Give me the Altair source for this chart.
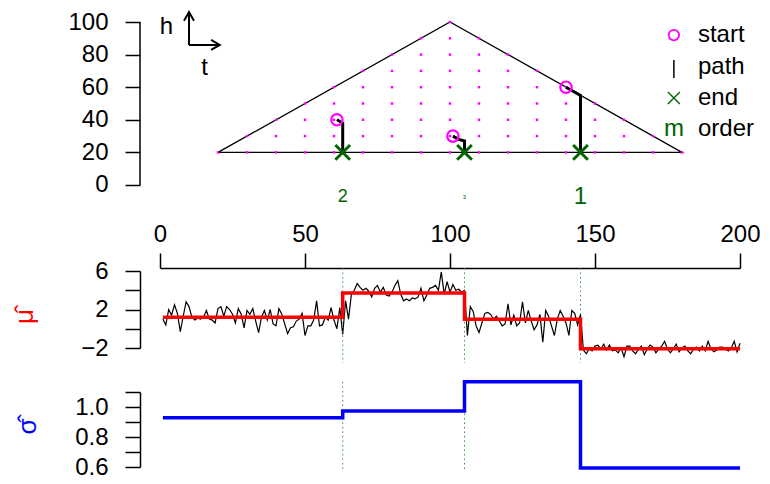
import altair as alt
import pandas as pd

FONT = "Liberation Sans"
DKGREEN = "#006400"

# ---------------- top panel data (t, h) ----------------
tri_t = [20, 100, 180, 20]
tri_h = [20, 100, 20, 20]
grid_t = list(range(20, 181, 10))
grid_h = list(range(20, 101, 10))

start_t = [61, 101, 140]
start_h = [40, 30, 60]
path_id = [1, 1, 1, 2, 2, 2, 2, 3, 3, 3]
path_t = [61, 63, 63, 101, 103, 105, 105, 140, 145, 145]
path_h = [40, 38, 20, 30, 28, 27, 20, 60, 55, 20]
end_t = [63, 105, 145]
end_h = [20, 20, 20]
order_text = ["2", "3", "1"]
order_size = [18, 6, 24]
order_h = -7.4

legend_labels = ["start", "path", "end", "order"]
legend_h = [92.0, 72.4, 53.4, 34.4]
legend_sym_t = 177.2
legend_txt_t = 185.5
legend_bar_h = [76.7, 65.6]

arrow_id = ["up", "up", "uph", "uph", "uph", "rt", "rt", "rth", "rth", "rth"]
arrow_t = [10.0, 10.0, 8.28, 10.0, 11.72, 10.0, 20.6, 17.61, 20.6, 17.61]
arrow_h = [85.9, 106.1, 100.8, 106.1, 100.8, 85.9, 85.9, 88.97, 85.9, 82.83]
hlab_t, hlab_h = 2.2, 97.0
tlab_t, tlab_h = 15.4, 71.8

# ---------------- series ----------------
cps = [63, 105, 145]
mu_levels = [1.19, 3.72, 1.0, -2.07]
sigma_levels = [0.929, 0.973, 1.169, 0.593]

seg1 = [1.0, 0.4, 2.0, 1.4, 2.5, 1.6, -0.3, 1.3, 2.8, 2.3,
        1.2, 0.9, 1.1, 1.0, 1.2, 1.9, 1.0, 0.9, 0.6, 2.1,
        2.3, 1.3, 2.3, 2.0, 1.5, 0.6, 2.1, 1.5, 0.1, 1.9,
        1.5, 2.1, 0.8, -0.4, 1.2, 1.9, 0.9, 2.0, 0.5, 0.3,
        2.1, 1.5, 0.5, -0.5, 0.1, 0.2, 0.8, 1.0, 1.6, -0.7,
        0.3, 0.3, 0.9, 2.9, 0.3, 0.4, 1.2, 0.9, 2.2, 0.9,
        0.0, 2.2, -0.6]
seg2 = [2.9, 1.0, 3.6, 4.0, 4.7, 4.3, 4.0, 4.2, 3.9, 3.3,
        4.2, 4.5, 3.8, 4.3, 3.5, 3.4, 3.8, 4.5, 5.0, 3.6,
        2.9, 3.1, 2.9, 3.2, 3.1, 3.3, 4.2, 2.9, 3.5, 4.2,
        4.3, 4.5, 4.0, 5.9, 3.6, 4.9, 3.8, 4.6, 4.0, 4.1,
        3.8, 4.0]
seg3 = [-0.7, 2.3, 1.8, 0.3, -0.4, 0.6, 1.6, 1.7, 1.5, 1.0,
        1.3, 0.8, 0.3, 0.5, 2.6, 0.4, 1.4, 0.3, 0.6, 2.8,
        0.6, 1.9, 0.8, -0.1, 0.4, 1.5, -1.4, 1.9, 1.3, 0.3,
        -0.7, 1.0, 1.9, 1.3, 0.6, -0.7, 1.9, 1.6, 0.4, 1.5]
seg4 = [-2.2, -2.6, -2.1, -2.3, -1.8, -1.7, -2.1, -1.6, -2.2, -1.7,
        -2.3, -2.2, -2.5, -2.0, -2.9, -1.8, -1.8, -2.3, -2.6, -2.1,
        -1.8, -2.7, -2.1, -1.7, -1.9, -2.5, -2.1, -1.8, -1.3, -2.1,
        -2.5, -2.1, -1.6, -2.4, -2.0, -1.8, -2.3, -2.6, -2.1, -1.9,
        -2.3, -1.8, -2.3, -1.3, -2.1, -2.4, -2.2, -1.9, -1.9, -2.1,
        -2.3, -2.0, -1.3, -2.4, -1.5]
noise = seg1 + seg2 + seg3 + seg4

# ---------------- layout numbers ----------------
W = 580
H_TOP = 205
H_MU = 77
H_SIG = 75
TOP_DOMAIN = [-25.77, 100]
MU_DOMAIN = [-2, 6]
SIG_DOMAIN = [0.6, 1.1]
top_axis_span = [0, 100]
mu_rule = [6.31, -3.56]
sig_rule = [1.167, 0.567]

# ---------------- frames ----------------
tri_df = pd.DataFrame({"t": tri_t, "h": tri_h, "i": list(range(len(tri_t)))})
grid_df = pd.DataFrame([{"t": t, "h": h} for t in grid_t for h in grid_h
                        if h <= t and h <= 200 - t])
start_df = pd.DataFrame({"t": start_t, "h": start_h})
path_df = pd.DataFrame({"id": [str(p) for p in path_id], "t": path_t, "h": path_h,
                        "i": list(range(len(path_t)))})
end_df = pd.DataFrame({"t": end_t, "h": end_h})
order_df = pd.DataFrame({"t": end_t, "h": [order_h] * 3, "txt": order_text,
                         "sz": order_size})
arrow_df = pd.DataFrame({"id": arrow_id, "t": arrow_t, "h": arrow_h,
                         "i": list(range(len(arrow_t)))})
lab_df = pd.DataFrame({"t": [hlab_t, tlab_t], "h": [hlab_h, tlab_h],
                       "txt": ["h", "t"]})
leg_txt_df = pd.DataFrame({"t": [legend_txt_t] * 4, "h": legend_h,
                           "txt": legend_labels})
axis_line_df = pd.DataFrame({"h": [top_axis_span[0]], "h2": [top_axis_span[1]]})

noise_df = pd.DataFrame({"t": list(range(1, 201)), "v": noise})


def step_frame(levels):
    ts, vs = [1], [levels[0]]
    for k, cp in enumerate(cps):
        ts += [cp, cp]
        vs += [levels[k], levels[k + 1]]
    ts.append(200)
    vs.append(levels[-1])
    return pd.DataFrame({"t": ts, "v": vs, "i": list(range(len(ts)))})


mu_df = step_frame(mu_levels)
sig_df = step_frame(sigma_levels)
mu_rule_df = pd.DataFrame({"t": cps, "v": [mu_rule[0]] * 3, "v2": [mu_rule[1]] * 3})
sig_rule_df = pd.DataFrame({"t": cps, "v": [sig_rule[0]] * 3, "v2": [sig_rule[1]] * 3})

# ---------------- encodings ----------------
def xscale():
    return alt.Scale(domain=[0, 200], nice=False, zero=False)


def X_none():
    return alt.X("t:Q", scale=xscale(), axis=None)


def Y_top():
    return alt.Y("h:Q",
                 scale=alt.Scale(domain=TOP_DOMAIN, nice=False, zero=False),
                 axis=alt.Axis(values=[0, 20, 40, 60, 80, 100], domain=False,
                               offset=20, tickSize=15, labelPadding=17,
                               title=None, labelOverlap=False))


XSHAPE = "M-1,-1L1,1M-1,1L1,-1"

top_axis_line = alt.Chart(axis_line_df).mark_rule(color="black", strokeWidth=1.5).encode(
    x=alt.value(-20), y=Y_top(), y2="h2:Q")
tri = alt.Chart(tri_df).mark_line(color="black", strokeWidth=1.3).encode(
    x=X_none(), y=Y_top(), order="i:Q")
dots = alt.Chart(grid_df).mark_square(color="#ff00ff", size=6, opacity=1).encode(
    x=X_none(), y=Y_top())
paths = alt.Chart(path_df).mark_line(color="black", strokeWidth=3).encode(
    x=X_none(), y=Y_top(), detail="id:N", order="i:Q")
starts = alt.Chart(start_df).mark_point(shape="circle", color="#ff00ff", filled=False,
                                        size=130, strokeWidth=2.2, opacity=1).encode(
    x=X_none(), y=Y_top())
ends = alt.Chart(end_df).mark_point(shape=XSHAPE, color=DKGREEN, filled=False,
                                    size=216, strokeWidth=3, opacity=1).encode(
    x=X_none(), y=Y_top())
orders = alt.Chart(order_df).mark_text(color=DKGREEN, font=FONT, baseline="middle",
                                       align="center").encode(
    x=X_none(), y=Y_top(), text="txt:N", size=alt.Size("sz:Q", scale=None, legend=None))
arrows = alt.Chart(arrow_df).mark_line(color="black", strokeWidth=2).encode(
    x=X_none(), y=Y_top(), detail="id:N", order="i:Q")
labs = alt.Chart(lab_df).mark_text(color="black", font=FONT, fontSize=24,
                                   baseline="middle", align="center").encode(
    x=X_none(), y=Y_top(), text="txt:N")

leg_circle = alt.Chart(pd.DataFrame({"t": [legend_sym_t], "h": [legend_h[0]]})).mark_point(
    shape="circle", color="#ff00ff", filled=False, size=110, strokeWidth=1.8, opacity=1).encode(
    x=X_none(), y=Y_top())
leg_bar = alt.Chart(pd.DataFrame({"t": [legend_sym_t], "h": [legend_bar_h[0]],
                                  "h2": [legend_bar_h[1]]})).mark_rule(
    color="black", strokeWidth=1.5).encode(x=X_none(), y=Y_top(), y2="h2:Q")
leg_x = alt.Chart(pd.DataFrame({"t": [legend_sym_t], "h": [legend_h[2]]})).mark_point(
    shape=XSHAPE, color=DKGREEN, filled=False, size=144, strokeWidth=1.4, opacity=1).encode(
    x=X_none(), y=Y_top())
leg_m = alt.Chart(pd.DataFrame({"t": [legend_sym_t], "h": [legend_h[3]], "txt": ["m"]})).mark_text(
    color=DKGREEN, font=FONT, fontSize=24, baseline="middle", align="center").encode(
    x=X_none(), y=Y_top(), text="txt:N")
leg_txt = alt.Chart(leg_txt_df).mark_text(color="black", font=FONT, fontSize=24,
                                          baseline="middle", align="left").encode(
    x=X_none(), y=Y_top(), text="txt:N")

top = alt.layer(top_axis_line, tri, dots, paths, starts, ends, orders, arrows, labs,
                leg_circle, leg_bar, leg_x, leg_m, leg_txt).properties(
    width=W, height=H_TOP)

# ---------------- mu panel ----------------
def mu_X():
    return alt.X("t:Q", scale=xscale(),
                 axis=alt.Axis(orient="top", values=[0, 50, 100, 150, 200], offset=3,
                               tickSize=15, labelPadding=7, title=None, labelFlush=False,
                               labelOverlap=False))


def mu_Y():
    return alt.Y("v:Q", scale=alt.Scale(domain=MU_DOMAIN, nice=False, zero=False),
                 axis=alt.Axis(values=[-2, 0, 2, 4, 6],
                               labelExpr="(datum.value == 0 || datum.value == 4) ? '' : datum.label",
                               offset=20, tickSize=15, labelPadding=17, labelOverlap=False,
                               title="μ̂", titleColor="red", titleFontSize=26, titleFont=FONT,
                               titleFontWeight="normal", titleAngle=270, titleX=-116, titleY=45,
                               titleAlign="center", titleBaseline="middle"))


noise_line = alt.Chart(noise_df).mark_line(color="black", strokeWidth=1.2).encode(
    x=mu_X(), y=mu_Y())
mu_rules = alt.Chart(mu_rule_df).mark_rule(color="#2e9a2e", strokeWidth=1,
                                           strokeDash=[1.5, 3]).encode(
    x=mu_X(), y=mu_Y(), y2="v2:Q")
mu_line = alt.Chart(mu_df).mark_line(color="red", strokeWidth=3.5).encode(
    x=mu_X(), y=mu_Y(), order="i:Q")
mu_panel = alt.layer(noise_line, mu_rules, mu_line).properties(width=W, height=H_MU)

# ---------------- sigma panel ----------------
def sig_Y():
    return alt.Y("v:Q", scale=alt.Scale(domain=SIG_DOMAIN, nice=False, zero=False),
                 axis=alt.Axis(values=[0.6, 0.7, 0.8, 0.9, 1.0, 1.1],
                               labelExpr="(round(datum.value * 10) % 2 == 0) ? format(datum.value, '.1f') : ''",
                               offset=20, tickSize=15, labelPadding=17, labelOverlap=False,
                               title="σ̂", titleColor="blue", titleFontSize=26, titleFont=FONT,
                               titleFontWeight="normal", titleAngle=270, titleX=-113, titleY=34,
                               titleAlign="center", titleBaseline="middle"))


sig_rules = alt.Chart(sig_rule_df).mark_rule(color="#2e9a2e", strokeWidth=1,
                                             strokeDash=[1.5, 3]).encode(
    x=X_none(), y=sig_Y(), y2="v2:Q")
sig_line = alt.Chart(sig_df).mark_line(color="blue", strokeWidth=3.5).encode(
    x=X_none(), y=sig_Y(), order="i:Q")
sig_panel = alt.layer(sig_rules, sig_line).properties(width=W, height=H_SIG)

chart = alt.vconcat(top, mu_panel, sig_panel, spacing=44, bounds="flush").properties(
    padding={"left": 3, "top": 0, "right": 0, "bottom": 0}, background="white"
).configure_view(stroke=None).configure_axis(
    labelFont=FONT, labelFontSize=24, labelColor="black", tickColor="black",
    domainColor="black", tickWidth=1.5, domainWidth=1.5, grid=False
)

chart.save("out.html", embed_options={"renderer": "svg", "actions": False})
